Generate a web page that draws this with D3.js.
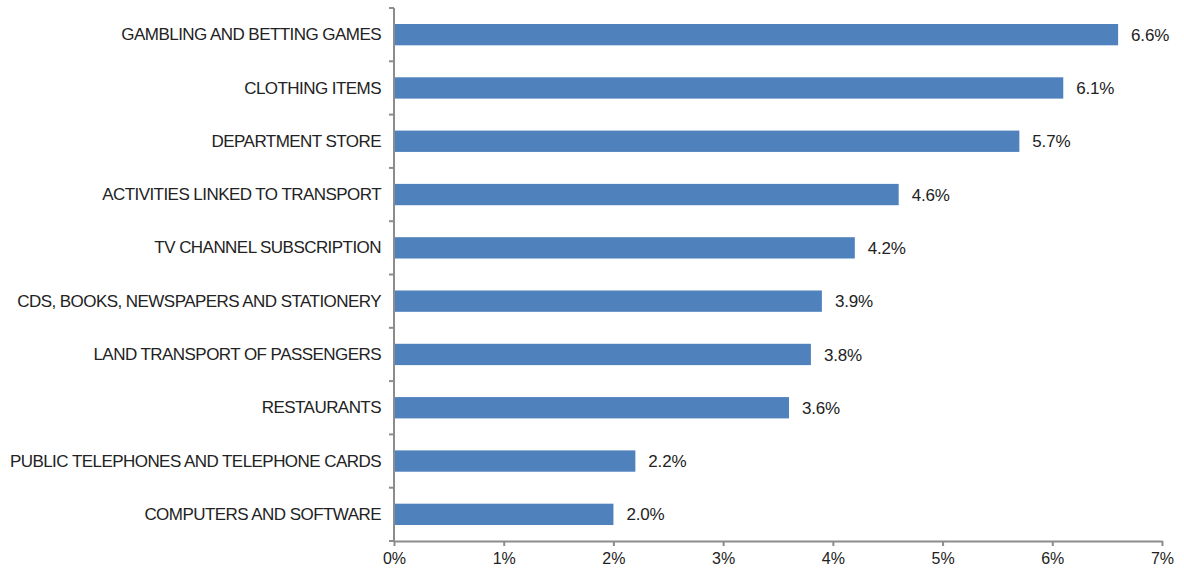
<!DOCTYPE html>
<html>
<head>
<meta charset="utf-8">
<script src="https://cdn.jsdelivr.net/npm/d3@7"></script>
<style>
  html, body { margin: 0; padding: 0; background: #fff; }
  svg text { font-family: "Liberation Sans", Arial, sans-serif; }
</style>
</head>
<body>
<svg id="chart" width="1184" height="569"></svg>
<script>
// Categories, top to bottom
const categories = [
  "GAMBLING AND BETTING GAMES",
  "CLOTHING ITEMS",
  "DEPARTMENT STORE",
  "ACTIVITIES LINKED TO TRANSPORT",
  "TV CHANNEL SUBSCRIPTION",
  "CDS, BOOKS, NEWSPAPERS AND STATIONERY",
  "LAND TRANSPORT OF PASSENGERS",
  "RESTAURANTS",
  "PUBLIC TELEPHONES AND TELEPHONE CARDS",
  "COMPUTERS AND SOFTWARE"
];
// Share, in percent
const values = [6.6, 6.1, 5.7, 4.6, 4.2, 3.9, 3.8, 3.6, 2.2, 2.0];
// Axis ticks, in percent
const xTicks = [0, 1, 2, 3, 4, 5, 6, 7];

const svg = d3.select("#chart");
const plotLeft = 394, plotRight = 1162, plotTop = 8, plotBottom = 541;

const x = d3.scaleLinear().domain([0, 7]).range([plotLeft, plotRight]);
const y = d3.scaleBand().domain(categories).range([plotTop, plotBottom]).padding(0);

const axisColor = "#8c8c8c";
const textColor = "#222222";
const barH = y.bandwidth() * 0.4;

// Bars
svg.append("g").selectAll("rect")
  .data(categories)
  .join("rect")
  .attr("x", x(0))
  .attr("y", d => y(d) + (y.bandwidth() - barH) / 2)
  .attr("width", (d, i) => x(values[i]) - x(0))
  .attr("height", barH)
  .attr("fill", "#4f81bd");

// Value labels
svg.append("g").selectAll("text")
  .data(categories)
  .join("text")
  .attr("x", (d, i) => x(values[i]) + 13)
  .attr("y", d => y(d) + y.bandwidth() / 2)
  .attr("dy", "0.36em")
  .attr("font-size", 17)
  .attr("letter-spacing", "-0.2")
  .attr("fill", textColor)
  .text((d, i) => values[i].toFixed(1) + "%");

// Category axis with ticks at band boundaries
const yAxis = svg.append("g");
yAxis.append("line")
  .attr("x1", plotLeft).attr("x2", plotLeft)
  .attr("y1", plotTop).attr("y2", plotBottom)
  .attr("stroke", axisColor).attr("stroke-width", 2);
const bounds = categories.map(c => y(c)).concat([plotBottom]);
yAxis.selectAll("line.tk")
  .data(bounds)
  .join("line")
  .attr("class", "tk")
  .attr("x1", plotLeft - 5).attr("x2", plotLeft)
  .attr("y1", d => d).attr("y2", d => d)
  .attr("stroke", axisColor).attr("stroke-width", 2);
yAxis.selectAll("text")
  .data(categories)
  .join("text")
  .attr("x", plotLeft - 13)
  .attr("y", d => y(d) + y.bandwidth() / 2)
  .attr("dy", "0.33em")
  .attr("text-anchor", "end")
  .attr("font-size", 17)
  .attr("letter-spacing", "-0.55")
  .attr("fill", textColor)
  .text(d => d);

// Value axis
const xAxis = svg.append("g").attr("transform", `translate(0,${plotBottom})`)
  .call(d3.axisBottom(x).tickValues(xTicks).tickSize(5).tickSizeOuter(0)
    .tickFormat(d => d + "%"));
xAxis.select(".domain").attr("stroke", axisColor).attr("stroke-width", 2);
xAxis.selectAll(".tick line").attr("stroke", axisColor).attr("stroke-width", 2);
xAxis.selectAll(".tick text")
  .attr("font-size", 16)
  .attr("font-family", "Liberation Sans, Arial, sans-serif")
  .attr("fill", textColor)
  .attr("dy", "0.95em");
</script>
</body>
</html>
